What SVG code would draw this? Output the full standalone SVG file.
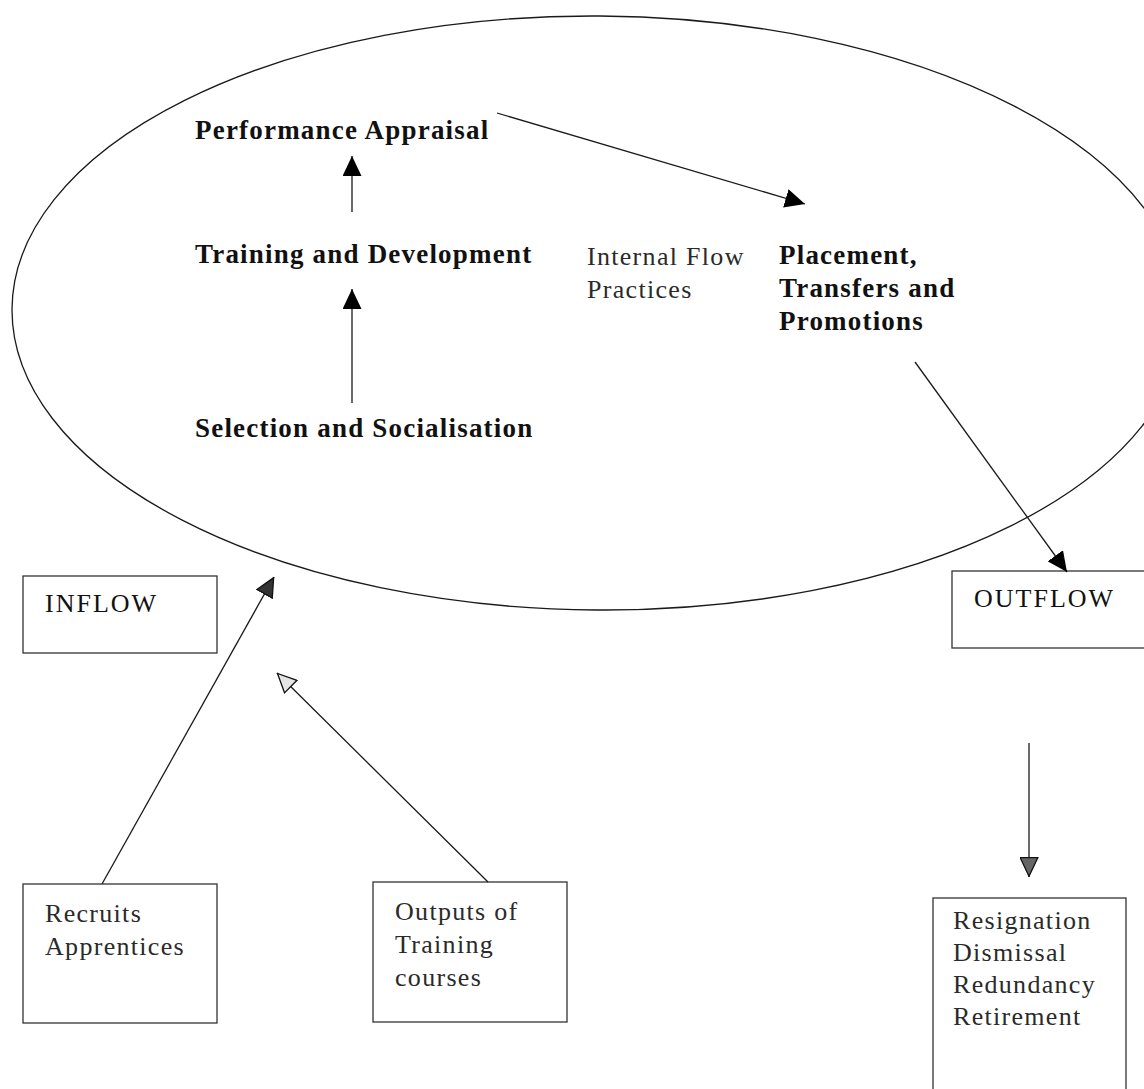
<svg xmlns="http://www.w3.org/2000/svg" width="1144" height="1089" viewBox="0 0 1144 1089">
<style>
  .bg{fill:#ffffff}
  .ell{fill:none;stroke:#1a1a1a;stroke-width:1.3}
  .box{fill:#ffffff;stroke:#333333;stroke-width:1.3}
  .b{font-family:"Liberation Serif","Times New Roman",serif;font-weight:bold;font-size:27px;letter-spacing:1.2px;fill:#111}
  .r{font-family:"Liberation Serif","Times New Roman",serif;font-size:26px;letter-spacing:1.3px;fill:#2a2a2a}
  .h{font-family:"Liberation Serif","Times New Roman",serif;font-size:26px;letter-spacing:2px;fill:#111}
  .ln{fill:none;stroke:#1a1a1a;stroke-width:1.3}
</style>
<defs>
  <marker id="ah" markerUnits="userSpaceOnUse" markerWidth="20" markerHeight="19" refX="20" refY="9.5" orient="auto" viewBox="0 0 20 19">
    <path d="M0,0 L20,9.5 L0,19 z" fill="#000"/>
  </marker>
  <marker id="ahd" markerUnits="userSpaceOnUse" markerWidth="20" markerHeight="19" refX="20" refY="9.5" orient="auto" viewBox="0 0 20 19">
    <path d="M0.7,0.7 L19.3,9.5 L0.7,18.3 z" fill="#333" stroke="#111" stroke-width="1.3"/>
  </marker>
  <marker id="ahg" markerUnits="userSpaceOnUse" markerWidth="20" markerHeight="19" refX="20" refY="9.5" orient="auto" viewBox="0 0 20 19">
    <path d="M0.7,0.7 L19.3,9.5 L0.7,18.3 z" fill="#666" stroke="#111" stroke-width="1.3"/>
  </marker>
  <marker id="aho" markerUnits="userSpaceOnUse" markerWidth="20" markerHeight="19" refX="20" refY="9.5" orient="auto" viewBox="0 0 20 19">
    <path d="M0.7,0.7 L19.3,9.5 L0.7,18.3 z" fill="#e4e4e4" stroke="#111" stroke-width="1.3"/>
  </marker>
</defs>
<rect class="bg" x="0" y="0" width="1144" height="1089"/>

<g id="internal-flow">
  <ellipse class="ell" cx="598" cy="313" rx="586" ry="297" transform="rotate(0.4 598 313)"/>
</g>

<g id="performance-appraisal"><text class="b" x="195" y="139">Performance Appraisal</text></g>
<g id="training-development"><text class="b" x="195" y="263">Training and Development</text></g>
<g id="selection-socialisation"><text class="b" x="195" y="437">Selection and Socialisation</text></g>
<g id="internal-flow-label">
  <text class="r" x="587" y="265">Internal Flow</text>
  <text class="r" x="587" y="298">Practices</text>
</g>
<g id="placement">
  <text class="b" x="779" y="264">Placement,</text>
  <text class="b" x="779" y="297">Transfers and</text>
  <text class="b" x="779" y="330">Promotions</text>
</g>

<g id="inflow">
  <rect class="box" x="23" y="576" width="194" height="77"/>
  <text class="h" x="45" y="612">INFLOW</text>
</g>
<g id="outflow">
  <rect class="box" x="952" y="571" width="200" height="77"/>
  <text class="h" x="974" y="607">OUTFLOW</text>
</g>
<g id="recruits">
  <rect class="box" x="23" y="884" width="194" height="139"/>
  <text class="r" x="45" y="922">Recruits</text>
  <text class="r" x="45" y="955">Apprentices</text>
</g>
<g id="outputs">
  <rect class="box" x="373" y="882" width="194" height="140"/>
  <text class="r" x="395" y="920">Outputs of</text>
  <text class="r" x="395" y="953">Training</text>
  <text class="r" x="395" y="986">courses</text>
</g>
<g id="leavers">
  <rect class="box" x="933" y="898" width="193" height="200"/>
  <text class="r" x="953" y="929">Resignation</text>
  <text class="r" x="953" y="961">Dismissal</text>
  <text class="r" x="953" y="993">Redundancy</text>
  <text class="r" x="953" y="1025">Retirement</text>
</g>

<g id="connectors">
  <line class="ln" x1="352" y1="212" x2="352" y2="156" marker-end="url(#ah)"/>
  <line class="ln" x1="352" y1="403" x2="352" y2="289" marker-end="url(#ah)"/>
  <line class="ln" x1="497" y1="113" x2="805" y2="204" marker-end="url(#ah)"/>
  <line class="ln" x1="915" y1="362" x2="1067" y2="572" marker-end="url(#ah)"/>
  <line class="ln" x1="102" y1="884" x2="274" y2="577" marker-end="url(#ahd)"/>
  <line class="ln" x1="488" y1="882" x2="277" y2="673" marker-end="url(#aho)"/>
  <line class="ln" x1="1029" y1="743" x2="1029" y2="877" marker-end="url(#ahg)"/>
</g>
</svg>
